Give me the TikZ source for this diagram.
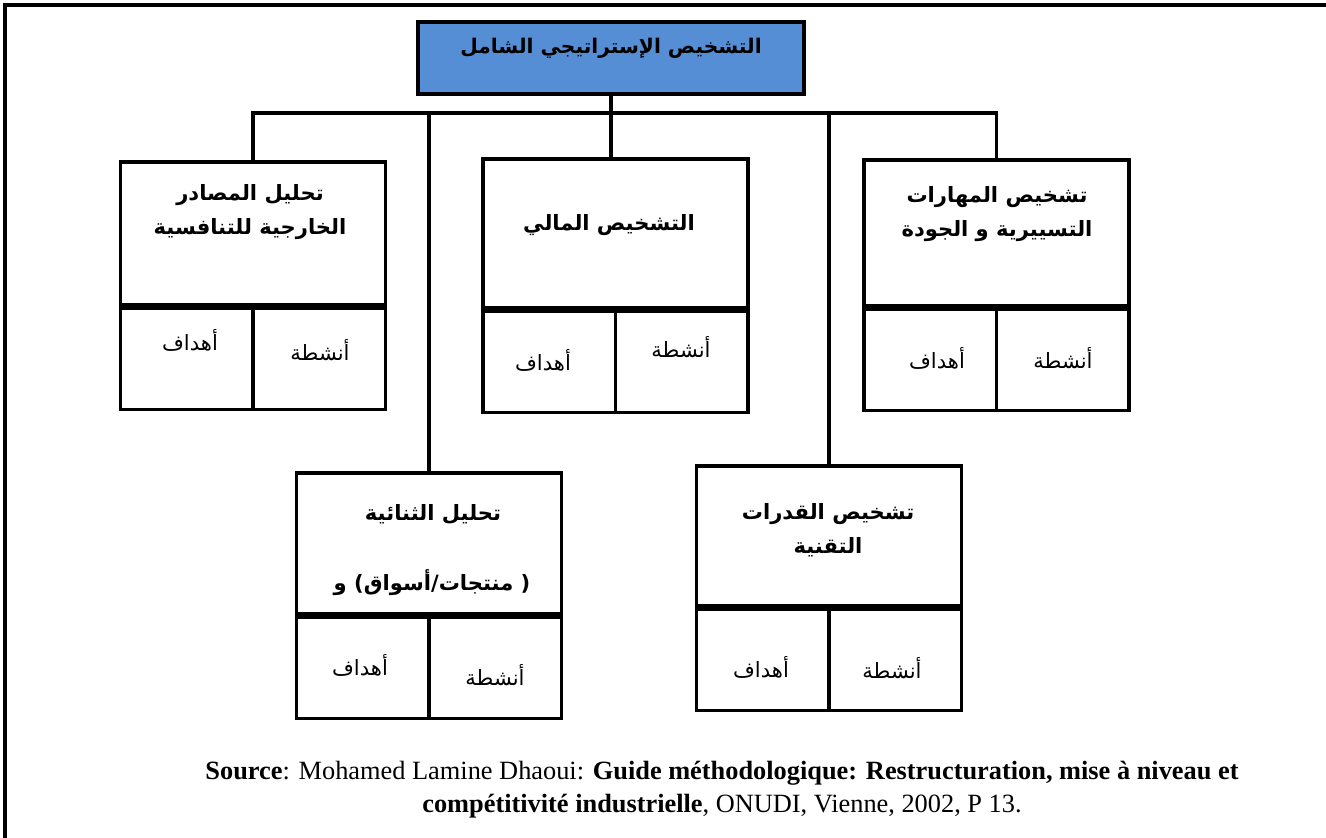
\documentclass[tikz,border=0pt]{standalone}
\usepackage{fontspec}
\setmainfont{Liberation Serif}
\newfontfamily\arabicfont[Script=Arabic]{DejaVu Sans}
\TeXXeTstate=1
\definecolor{topblue}{RGB}{85,142,213}

\begin{document}
\begin{tikzpicture}[x=0.02cm,y=-0.02cm]
\tikzstyle{topbox} = [rectangle, draw, line width=2pt, fill=topblue,
minimum width=7.72cm, minimum height=1.44cm]
\tikzstyle{headbox} = [rectangle, draw, line width=2pt, minimum width=5.3cm]
\tikzstyle{cellbox} = [rectangle, draw, line width=2pt,
minimum width=2.65cm, minimum height=2.02cm]
\tikzstyle{headtext} = [font=\arabicfont\bfseries\fontsize{12}{19.3}\selectfont,
align=center, inner sep=0pt]
\tikzstyle{celltext} = [font=\arabicfont\fontsize{12}{13}\selectfont, inner sep=0pt]
\tikzstyle{srctext} = [font=\fontsize{15}{18.7}\selectfont, align=center, inner sep=0pt]
\tikzstyle{link} = [draw, line width=2.2pt]
\useasboundingbox (0,0) rectangle (1326,838);
% frame
\draw[line width=2.2pt] (5,838) -- (5,5) -- (1326,5);
% top
\node [topbox] (diag) at (611,58) {};
\node [headtext, font=\arabicfont\bfseries\fontsize{11.5}{14}\selectfont] (diagtext) at (611,48) {\beginR التشخيص الإستراتيجي الشامل\endR};
% upper row
\node [headbox, minimum height=2.86cm] (ext) at (253,233.5) {};
\node [headbox, minimum height=2.98cm] (fin) at (615.5,233.5) {};
\node [headbox, minimum height=2.92cm] (qual) at (996.5,233) {};
% lower row
\node [headbox, minimum height=2.82cm] (pair) at (429,543.5) {};
\node [headbox, minimum height=2.80cm] (tech) at (829,536) {};
% cells
\foreach \b in {ext,fin,qual,pair,tech} {
  \node [cellbox, anchor=north west] (\b L) at (\b.south west) {};
  \node [cellbox, anchor=north east] (\b R) at (\b.south east) {};
}
% titles
\node [headtext] (exttext) at (250,212) {\beginR تحليل المصادر\endR\\ \beginR الخارجية للتنافسية\endR};
\node [headtext] (fintext) at (609,225) {\beginR التشخيص المالي\endR};
\node [headtext] (qualtext) at (997,214) {\beginR تشخيص المهارات\endR\\ \beginR التسييرية و الجودة\endR};
\node [headtext] (pairtext) at (433,514) {\beginR تحليل الثنائية\endR};
\node [headtext] (pairtext2) at (432,583) {\hbox{و} )\hbox{أسواق}/\hbox{منتجات} (};
\node [headtext] (techtext) at (828,530) {\beginR تشخيص القدرات\endR\\ \beginR التقنية\endR};
% cell labels
\node [celltext] (extaim) at (190,340) {أهداف};
\node [celltext] (extact) at (320,350) {أنشطة};
\node [celltext] (finaim) at (543,360) {أهداف};
\node [celltext] (finact) at (681,347) {أنشطة};
\node [celltext] (qualaim) at (937,358) {أهداف};
\node [celltext] (qualact) at (1063,358) {أنشطة};
\node [celltext] (pairaim) at (360,665) {أهداف};
\node [celltext] (pairact) at (495,675) {أنشطة};
\node [celltext] (techaim) at (761,667) {أهداف};
\node [celltext] (techact) at (892,668) {أنشطة};
% connectors
\coordinate (bus) at (612,113);
\path [link] (diag.south) -- (diag.south |- fin.north);
\path [link] (ext.north) |- (bus);
\path [link] (qual.north) |- (bus);
\path [link] (pair.north) -- (pair.north |- bus);
\path [link] (tech.north) -- (tech.north |- bus);
% source
\node [srctext] (src) at (722,790) {\textbf{Source}: Mohamed Lamine Dhaoui: \textbf{Guide méthodologique: Restructuration, mise à niveau et}\\
\textbf{compétitivité industrielle}, ONUDI, Vienne, 2002, P 13.};
\end{tikzpicture}
\end{document}
